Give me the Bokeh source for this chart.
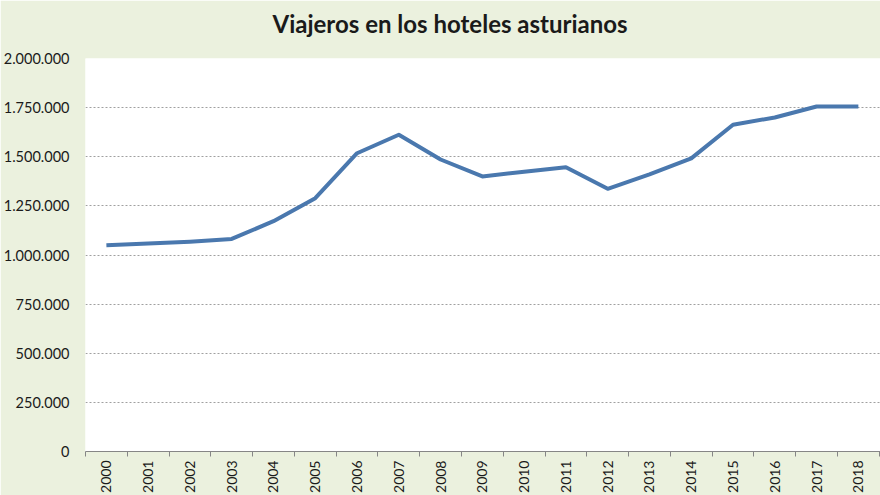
from bokeh.plotting import figure
from bokeh.models import FixedTicker, Range1d, Title
from bokeh.embed import file_html
from bokeh.resources import INLINE

years = ["2000", "2001", "2002", "2003", "2004", "2005", "2006", "2007", "2008", "2009",
         "2010", "2011", "2012", "2013", "2014", "2015", "2016", "2017", "2018"]
viajeros = [1050000, 1058000, 1068000, 1082000, 1172000, 1289000, 1518000, 1612000, 1486000,
            1400000, 1424000, 1447000, 1337000, 1410000, 1492000, 1663000, 1700000, 1756000, 1756000]
y_ticks = [0, 250000, 500000, 750000, 1000000, 1250000, 1500000, 1750000, 2000000]
y_tick_labels = ["0", "250.000", "500.000", "750.000", "1.000.000", "1.250.000",
                 "1.500.000", "1.750.000", "2.000.000"]
title_text = "Viajeros en los hoteles asturianos"

BG = "#EBF1DE"
FONT = "Lato"

n = len(years)
xs = list(range(n))

p = figure(width=880, height=495, output_backend="svg", toolbar_location=None,
           x_range=Range1d(-0.5, n - 0.5 + 0.03), y_range=Range1d(0, 2000000),
           min_border_left=85, min_border_right=0, min_border_top=58, min_border_bottom=44)
p.background_fill_color = "white"
p.border_fill_color = BG
p.outline_line_color = None

p.line(xs, viajeros, line_color="#4A78AE", line_width=4, line_join="round")

# spacer (drawn in the background colour) next to the plot area, then the title above it
p.add_layout(Title(text=".", text_color=BG, text_font=FONT, text_font_size="10px",
                   standoff=12), "above")
p.add_layout(Title(text=title_text, align="left", offset=187, standoff=0, text_font=FONT,
                   text_font_size="24px", text_font_style="bold", text_color="#1a1a1a"),
             "above")

# x axis
p.xaxis.ticker = FixedTicker(ticks=xs, minor_ticks=[i - 0.5 for i in range(n + 1)])
p.xaxis.major_label_overrides = {i: y for i, y in enumerate(years)}
p.xaxis.major_tick_line_color = None
p.xaxis.minor_tick_in = 0
p.xaxis.minor_tick_out = 5
p.xaxis.minor_tick_line_color = "#868686"
p.xaxis.axis_line_color = "#868686"
p.xaxis.major_label_orientation = 1.5708
p.xaxis.major_label_text_font = FONT
p.xaxis.major_label_text_font_size = "14px"
p.xaxis.major_label_text_color = "#1a1a1a"
p.xaxis.major_label_standoff = 3

# y axis
p.yaxis.ticker = FixedTicker(ticks=y_ticks)
p.yaxis.major_label_overrides = {t: l for t, l in zip(y_ticks, y_tick_labels)}
p.yaxis.axis_line_color = None
p.yaxis.major_tick_line_color = None
p.yaxis.minor_tick_line_color = None
p.yaxis.major_label_text_font = FONT
p.yaxis.major_label_text_font_size = "14.5px"
p.yaxis.major_label_text_color = "#1a1a1a"
p.yaxis.major_label_standoff = 10

p.xgrid.grid_line_color = None
p.ygrid.grid_line_color = "#a0a0a0"
p.ygrid.grid_line_dash = "2 2"
p.ygrid.grid_line_width = 1

open("out.html", "w").write(file_html(p, INLINE))
